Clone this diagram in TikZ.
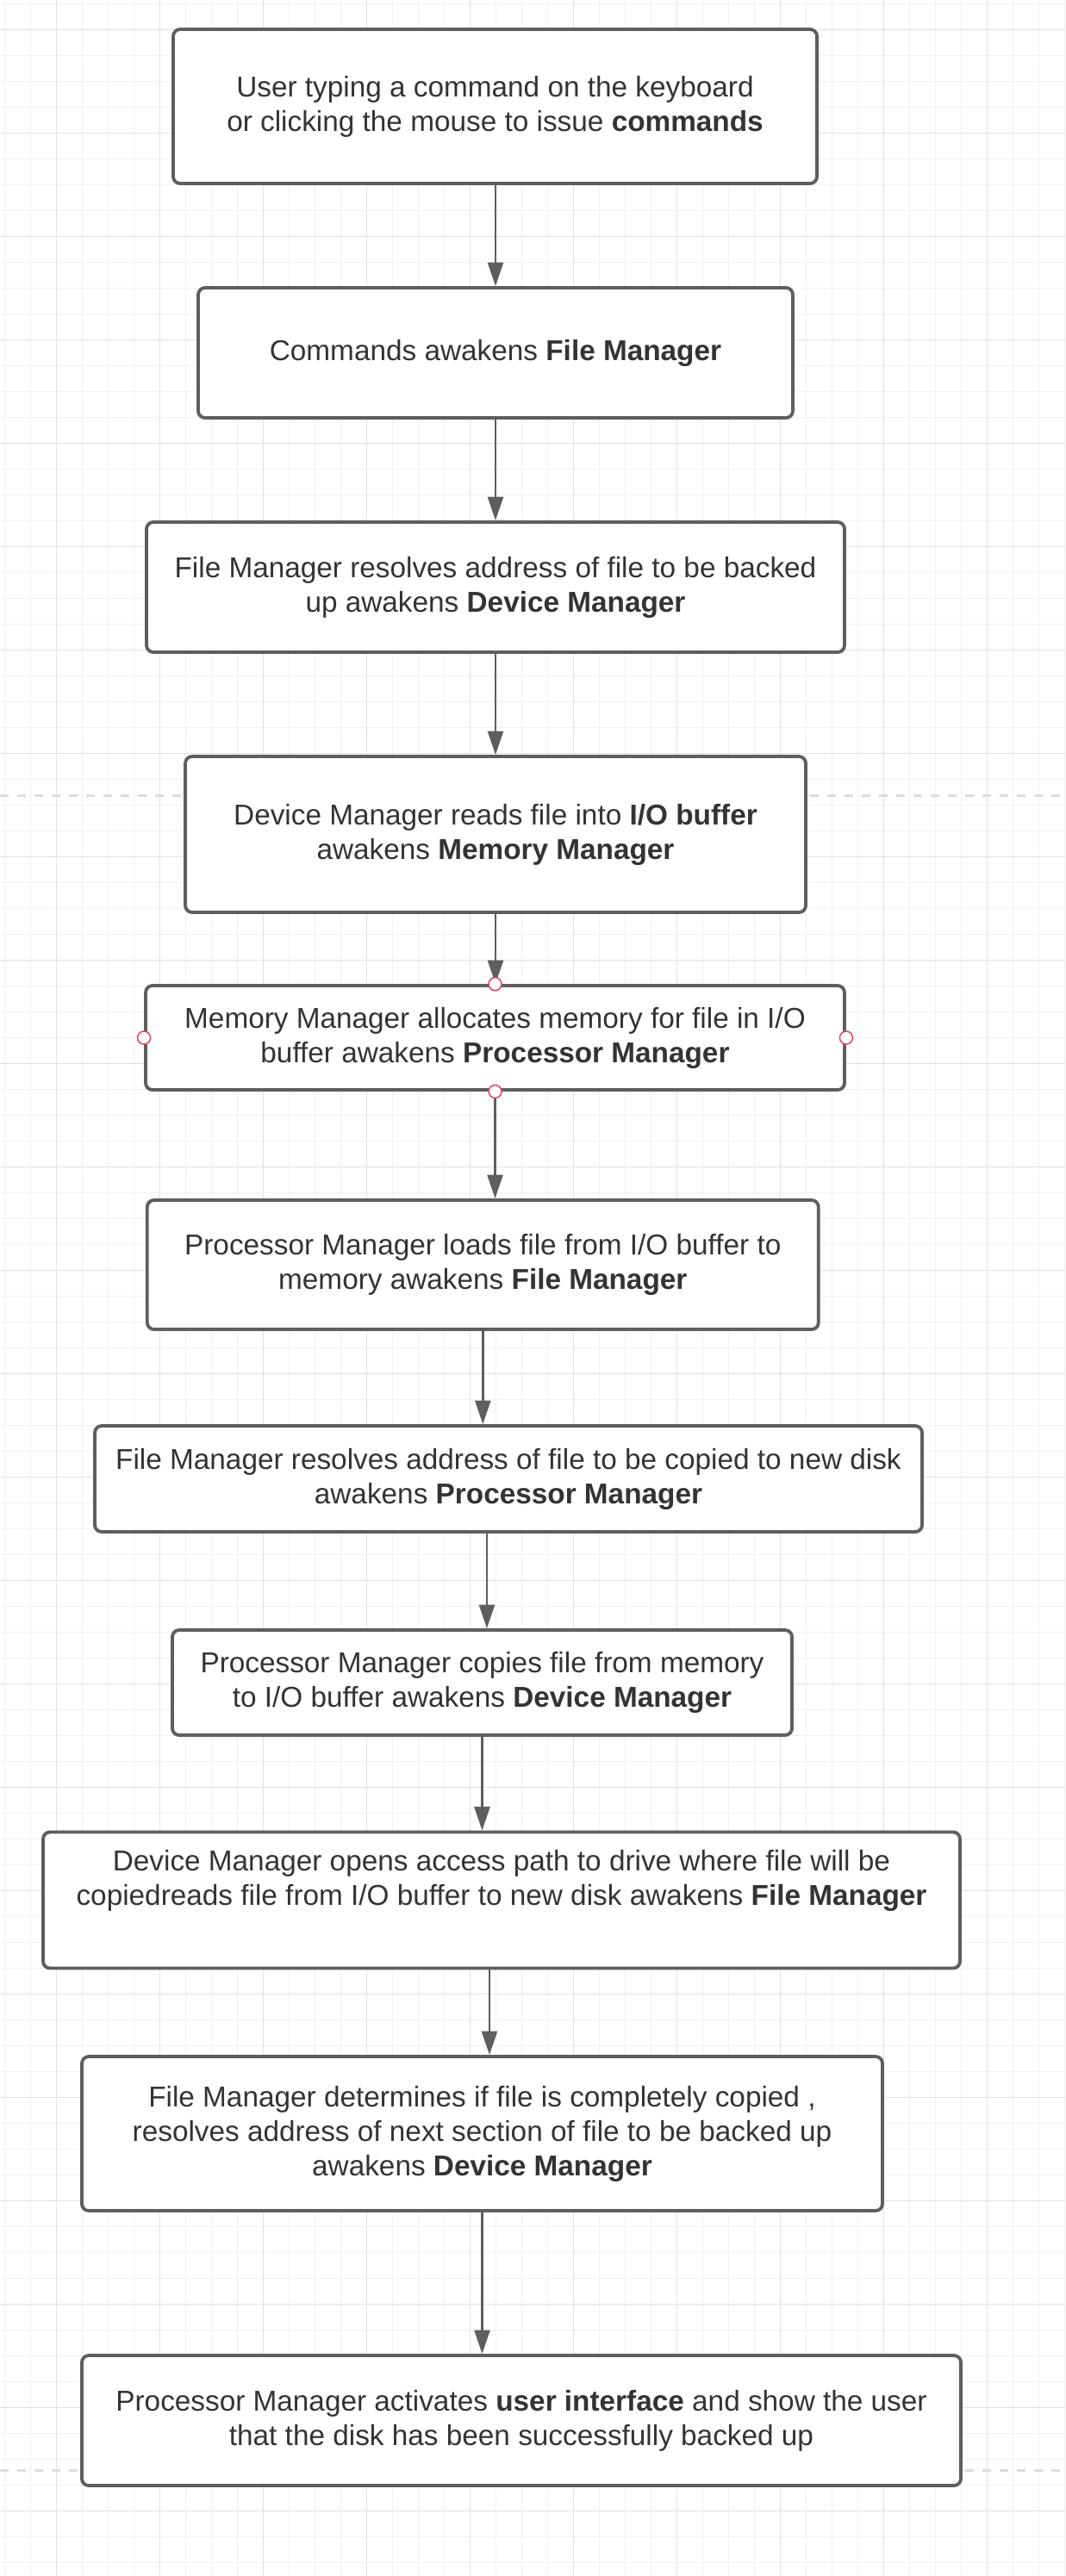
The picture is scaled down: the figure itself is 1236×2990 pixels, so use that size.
\documentclass[tikz,border=0pt]{standalone}
\usepackage{fontspec}
\setmainfont{Liberation Sans}
\usepackage{xcolor}
\usepackage{tikz}
\usetikzlibrary{arrows.meta}
\usetikzlibrary{positioning, shapes.misc}

\definecolor{boxgray}{HTML}{5E5E5E}
\definecolor{txtgray}{HTML}{333333}
\definecolor{gridminor}{HTML}{F0F0F0}
\definecolor{gridmajor}{HTML}{E1E1E1}
\definecolor{pagegray}{HTML}{DCDCDC}
\definecolor{handlered}{HTML}{E2445C}

\tikzset{
stepbox/.style = { rectangle, draw = boxgray, fill = white, line width = 2.3pt, rounded corners = 4.8pt, align = center, text = txtgray, inner sep = 0pt, font = \fontsize{20}{24}\selectfont },
boxsize/.style 2 args = { minimum width = #1*0.6pt, minimum height = #2*0.6pt },
flow/.style = { draw = boxgray, line width = 1.5pt, -{Triangle[length = 16.5pt, width = 10.8pt]} },
handle/.style = { circle, draw = handlered, fill = white, line width = 0.9pt, minimum size = 9pt, inner sep = 0pt },
minorline/.style = { draw = gridminor, line width = 0.6pt },
majorline/.style = { draw = gridmajor, line width = 0.6pt },
pageline/.style = { draw = pagegray, line width = 1.8pt, dash pattern = on 6pt off 6pt },
}

\begin{document}
\begin{tikzpicture}[x = 0.6pt, y = -0.6pt]
    \useasboundingbox (0, 0) rectangle (1236, 2990);
    \fill[white] (0, 0) rectangle (1236, 2990);
    % grid of the canvas
    \foreach \gx in {5.7, 35.7, ..., 1236} \draw[minorline] (\gx, 0) -- (\gx, 2990);
    \foreach \gy in {4.3, 34.3, ..., 2990} \draw[minorline] (0, \gy) -- (1236, \gy);
    \foreach \gx in {65.7, 185.7, ..., 1236} \draw[majorline] (\gx, 0) -- (\gx, 2990);
    \foreach \gy in {34.3, 154.3, ..., 2990} \draw[majorline] (0, \gy) -- (1236, \gy);
    \draw[pageline] (0, 923) -- (1236, 923);
    \draw[pageline] (0, 2867) -- (1236, 2867);

    % steps
    \node[stepbox, boxsize = {747}{179}] (b1) at (574.5, 123.5) {User typing a command on the keyboard\\or clicking the mouse to issue \textbf{commands}};
    \node[stepbox, boxsize = {690}{151}] (b2) at (575, 409.5) {Commands awakens \textbf{File Manager}};
    \node[stepbox, boxsize = {810}{151}] (b3) at (575, 681.5) {File Manager resolves address of file to be backed\\up awakens \textbf{Device Manager}};
    \node[stepbox, boxsize = {720}{181}] (b4) at (575, 968.5) {Device Manager reads file into \textbf{I/O buffer}\\awakens \textbf{Memory Manager}};
    \node[stepbox, boxsize = {811}{121}] (b5) at (574.5, 1204.5) {Memory Manager allocates memory for file in I/O\\buffer awakens \textbf{Processor Manager}};
    \node[stepbox, boxsize = {779}{150}] (b6) at (560.3, 1468) {Processor Manager loads file from I/O buffer to\\memory awakens \textbf{File Manager}};
    \node[stepbox, boxsize = {960}{123}] (b7) at (590, 1716.5) {File Manager resolves address of file to be copied to new disk\\awakens \textbf{Processor Manager}};
    \node[stepbox, boxsize = {719}{122}] (b8) at (559.5, 1953) {Processor Manager copies file from memory\\to I/O buffer awakens \textbf{Device Manager}};
    \node[stepbox, boxsize = {1064}{158}] (b9) at (582, 2205.5) {Device Manager opens access path to drive where file will be\\copiedreads file from I/O buffer to new disk awakens \textbf{File Manager}\\\strut};
    \node[stepbox, boxsize = {929}{179}] (b10) at (559.5, 2476.5) {File Manager determines if file is completely copied ,\\resolves address of next section of file to be backed up\\awakens \textbf{Device Manager}};
    \node[stepbox, boxsize = {1020}{151}] (b11) at (605, 2809.5) {Processor Manager activates \textbf{user interface} and show the user\\that the disk has been successfully backed up};

    % arrows
    \draw[flow] (b1.south -| b2.north) -- (b2.north);
    \draw[flow] (b2.south) -- (b3.north);
    \draw[flow] (b3.south) -- (b4.north);
    \draw[flow] (b4.south) -- (b4.south |- b5.north);
    \draw[flow] (b5.south) -- (b5.south |- b6.north);
    \draw[flow] (b6.south) -- (b6.south |- b7.north);
    \draw[flow] ([xshift = 3.3pt]b8.north |- b7.south) -- ([xshift = 3.3pt]b8.north);
    \draw[flow] (b8.south) -- (b8.south |- b9.north);
    \draw[flow] ([xshift = 5.1pt]b10.north |- b9.south) -- ([xshift = 5.1pt]b10.north);
    \draw[flow] (b10.south) -- (b10.south |- b11.north);

    % selection handles
    \node[handle] (h1) at (b5.north) {};
    \node[handle] (h2) at (b5.south) {};
    \node[handle] (h3) at (b5.west) {};
    \node[handle] (h4) at (b5.east) {};
\end{tikzpicture}
\end{document}
